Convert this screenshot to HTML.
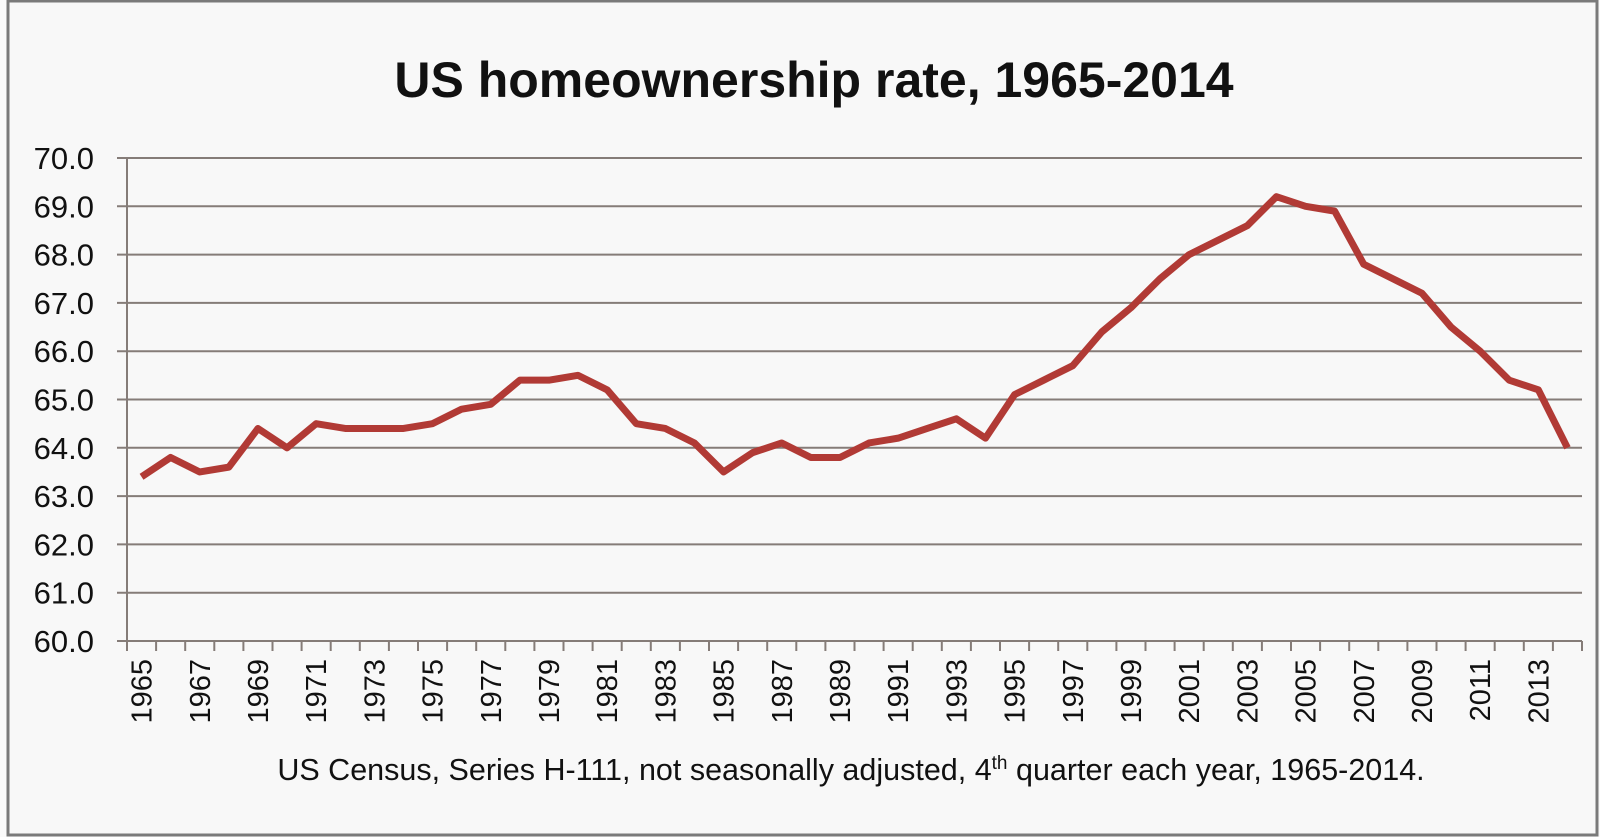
<!DOCTYPE html>
<html><head><meta charset="utf-8"><style>
html,body{margin:0;padding:0;background:#fafafa;}
svg{display:block;font-family:"Liberation Sans",Calibri,sans-serif;}
</style></head><body>
<svg id="chart" width="1600" height="837" viewBox="0 0 1600 837">
<rect x="8" y="1" width="1589" height="834" fill="#f8f8f8" stroke="#7a7a7a" stroke-width="3"/>
<text x="814" y="97" text-anchor="middle" font-size="50" font-weight="bold" fill="#111">US homeownership rate, 1965-2014</text>
<g id="grid"></g><g id="axes"></g><g id="series"></g>
<text x="851" y="780" text-anchor="middle" font-size="30.5" fill="#111">US Census, Series H-111, not seasonally adjusted, 4<tspan dy="-11" font-size="19">th</tspan><tspan dy="11"> quarter each year, 1965-2014.</tspan></text>
</svg>
<script>
const years=[1965,1966,1967,1968,1969,1970,1971,1972,1973,1974,1975,1976,1977,1978,1979,1980,1981,1982,1983,1984,1985,1986,1987,1988,1989,1990,1991,1992,1993,1994,1995,1996,1997,1998,1999,2000,2001,2002,2003,2004,2005,2006,2007,2008,2009,2010,2011,2012,2013,2014];
const rates=[63.4,63.8,63.5,63.6,64.4,64.0,64.5,64.4,64.4,64.4,64.5,64.8,64.9,65.4,65.4,65.5,65.2,64.5,64.4,64.1,63.5,63.9,64.1,63.8,63.8,64.1,64.2,64.4,64.6,64.2,65.1,65.4,65.7,66.4,66.9,67.5,68.0,68.3,68.6,69.2,69.0,68.9,67.8,67.5,67.2,66.5,66.0,65.4,65.2,64.0];
const yTicks=[60,61,62,63,64,65,66,67,68,69,70];
const NS="http://www.w3.org/2000/svg";
const L=127,R=1582,T=158,B=641,yMin=60,yMax=70;
const bw=(R-L)/years.length;
const x=i=>L+bw*(i+0.5);
const y=v=>B-(v-yMin)/(yMax-yMin)*(B-T);
function mk(tag,attrs,parent,txt){const e=document.createElementNS(NS,tag);for(const k in attrs)e.setAttribute(k,attrs[k]);if(txt!==undefined)e.textContent=txt;document.getElementById(parent).appendChild(e);return e;}
yTicks.forEach(v=>{
  const g=mk('line',{x1:L-10,x2:R,y1:y(v),y2:y(v),stroke:'#857c78','stroke-width':2},'grid');
  
  
  const t=mk('text',{x:94,y:y(v)+11,'text-anchor':'end','font-size':31,fill:'#111'},'axes',v.toFixed(1));
  
  
});
const ax=mk('line',{x1:L,x2:L,y1:T,y2:B+10,stroke:'#857c78','stroke-width':2},'axes');


for(let i=0;i<=years.length;i++){
  const tk=mk('line',{x1:L+bw*i,x2:L+bw*i,y1:B,y2:B+10,stroke:'#857c78','stroke-width':2},'axes');
  
  
}
years.forEach((yr,i)=>{
  if(i%2)return;
  const t=mk('text',{transform:`translate(${x(i)+10},${B+18}) rotate(-90)`,'text-anchor':'end','font-size':29,fill:'#111'},'axes',yr);
  
  
});
const p=mk('polyline',{points:rates.map((v,i)=>x(i)+','+y(v)).join(' '),fill:'none',stroke:'#b13a35','stroke-width':7,'stroke-linejoin':'round'},'series');


</script>
</body></html>
